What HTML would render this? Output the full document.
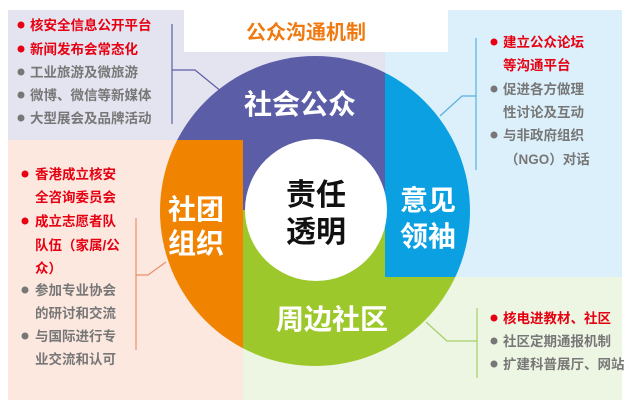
<!DOCTYPE html>
<html><head><meta charset="utf-8"><style>
body{margin:0;width:629px;height:410px;background:#fff;overflow:hidden;font-family:"Liberation Sans","Noto Sans CJK SC",sans-serif}
svg{position:absolute;left:0;top:0}
</style></head><body>
<svg width="629" height="410" font-family="Liberation Sans, Noto Sans CJK SC, sans-serif">
<defs>
<clipPath id="cp"><rect x="0" y="0" width="385" height="140"/><rect x="243" y="140" width="142" height="70"/></clipPath>
<clipPath id="cb"><rect x="385" y="0" width="300" height="277"/></clipPath>
<clipPath id="co"><rect x="0" y="140" width="243" height="300"/></clipPath>
<clipPath id="cg"><rect x="243" y="277" width="400" height="200"/><rect x="243" y="210" width="142" height="67"/></clipPath>
</defs>
<rect x="8" y="10" width="377" height="130" fill="#e4e4f0"/>
<rect x="385" y="10" width="237" height="267" fill="#dcf0fb"/>
<rect x="8" y="140" width="235" height="260" fill="#fce8df"/>
<rect x="243" y="277" width="379" height="123" fill="#edf5e3"/>
<rect x="184" y="10" width="264" height="42" fill="#fff"/>
<text x="306" y="39" text-anchor="middle" font-size="20" font-weight="bold" fill="#f07a12">公众沟通机制</text>
<g>
<circle cx="315" cy="211" r="155" fill="#5b5ea6" clip-path="url(#cp)"/>
<circle cx="315" cy="211" r="155" fill="#0aa0e2" clip-path="url(#cb)"/>
<circle cx="315" cy="211" r="155" fill="#f08300" clip-path="url(#co)"/>
<circle cx="315" cy="211" r="155" fill="#9dc82c" clip-path="url(#cg)"/>
<circle cx="316" cy="210" r="71" fill="#fff"/>
</g>
<g font-weight="bold" fill="#fff" font-size="28">
<text x="300" y="114" text-anchor="middle">社会公众</text>
<text x="428" y="210" text-anchor="middle">意见</text>
<text x="428" y="246" text-anchor="middle">领袖</text>
<text x="196" y="219" text-anchor="middle">社团</text>
<text x="196" y="253" text-anchor="middle">组织</text>
<text x="332" y="329" text-anchor="middle">周边社区</text>
</g>
<g font-weight="bold" fill="#111" font-size="30">
<text x="316" y="205" text-anchor="middle">责任</text>
<text x="316" y="242" text-anchor="middle">透明</text>
</g>
<g fill="none" stroke-width="1.2">
<polyline points="172,24 172,124" stroke="#5b5ea6"/>
<polyline points="172,70 195,70 222,92" stroke="#5b5ea6"/>
<polyline points="136,218 136,350" stroke="#e8906a"/>
<polyline points="136,275 148,275 166,262" stroke="#e8906a"/>
<polyline points="476,38 476,170" stroke="#5aaedf"/>
<polyline points="476,96 462,96 440,116" stroke="#5aaedf"/>
<polyline points="477,308 477,378" stroke="#a8cf6a"/>
<polyline points="477,341 447,341 426,322" stroke="#a8cf6a"/>
</g>
<g font-size="13.5" font-weight="bold">
<g fill="#e60012">
<circle cx="21" cy="25" r="3.5"/><text x="30" y="30">核安全信息公开平台</text>
<circle cx="21" cy="49" r="3.5"/><text x="30" y="54">新闻发布会常态化</text>
</g>
<g fill="#777">
<circle cx="21" cy="72" r="3.5"/><text x="30" y="77">工业旅游及微旅游</text>
<circle cx="21" cy="95" r="3.5"/><text x="30" y="100">微博、微信等新媒体</text>
<circle cx="21" cy="118" r="3.5"/><text x="30" y="123">大型展会及品牌活动</text>
</g>
<g fill="#e60012">
<circle cx="25" cy="174" r="3.5"/><text x="35" y="179">香港成立核安</text>
<text x="35" y="202">全咨询委员会</text>
<circle cx="25" cy="221" r="3.5"/><text x="35" y="226">成立志愿者队</text>
<text x="35" y="250">队伍（家属/公</text>
<text x="35" y="273">众）</text>
</g>
<g fill="#777">
<circle cx="25" cy="290" r="3.5"/><text x="35" y="295">参加专业协会</text>
<text x="35" y="318">的研讨和交流</text>
<circle cx="25" cy="336" r="3.5"/><text x="35" y="341">与国际进行专</text>
<text x="35" y="364">业交流和认可</text>
</g>
<g fill="#e60012">
<circle cx="494" cy="42" r="3.5"/><text x="503" y="47">建立公众论坛</text>
<text x="503" y="70">等沟通平台</text>
</g>
<g fill="#777">
<circle cx="494" cy="89" r="3.5"/><text x="503" y="94">促进各方做理</text>
<text x="503" y="117">性讨论及互动</text>
<circle cx="494" cy="135" r="3.5"/><text x="503" y="140">与非政府组织</text>
<text x="505" y="164">（NGO）对话</text>
</g>
<g fill="#e60012">
<circle cx="494" cy="318" r="3.5"/><text x="503" y="323">核电进教材、社区</text>
</g>
<g fill="#777">
<circle cx="494" cy="341" r="3.5"/><text x="503" y="346">社区定期通报机制</text>
<circle cx="494" cy="364" r="3.5"/><text x="503" y="369">扩建科普展厅、网站</text>
</g>
</g>
</svg>
</body></html>
